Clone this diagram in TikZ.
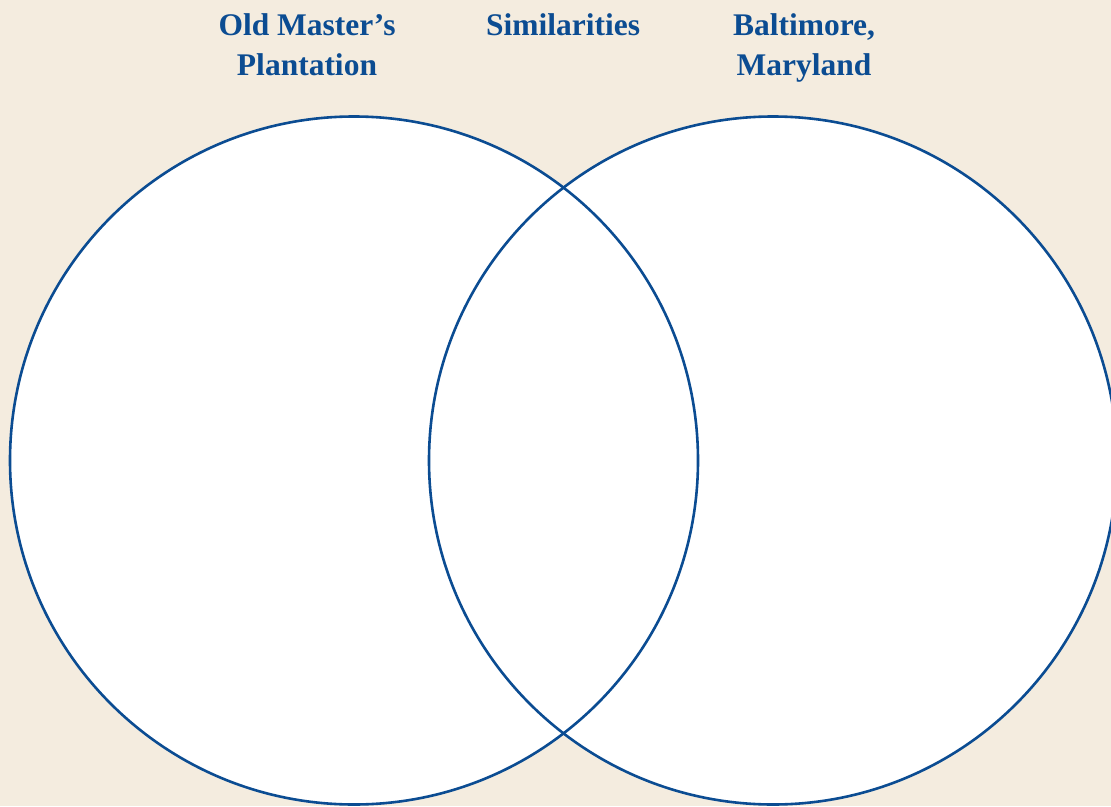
\documentclass[tikz,border=0pt]{standalone}
\usepackage{fontspec}
\setmainfont{Liberation Serif}
\definecolor{bg}{HTML}{F4ECDF}
\definecolor{vblue}{HTML}{0B4C92}
\begin{document}
\begin{tikzpicture}[x=1pt,y=-1pt,
  ring/.style={draw=vblue,line width=2.6pt},
  head/.style={text=vblue,font=\fontsize{31.5}{40}\selectfont\bfseries,align=center,anchor=north}]
\useasboundingbox (0,0) rectangle (1111,806);
\clip (0,0) rectangle (1111,806);
\fill[bg] (0,0) rectangle (1111,806);
\coordinate (cl) at (354,460.5);
\coordinate (cr) at (773,460.5);
\fill[white] (cl) circle[radius=344pt];
\fill[white] (cr) circle[radius=344pt];
\draw[ring] (cl) circle[radius=344pt];
\draw[ring] (cr) circle[radius=344pt];
\node[head] (t1) at (307,10) {Old Master’s\\Plantation};
\node[head] (t2) at (563,10) {Similarities};
\node[head] (t3) at (804,10) {Baltimore,\\Maryland};
\end{tikzpicture}
\end{document}
